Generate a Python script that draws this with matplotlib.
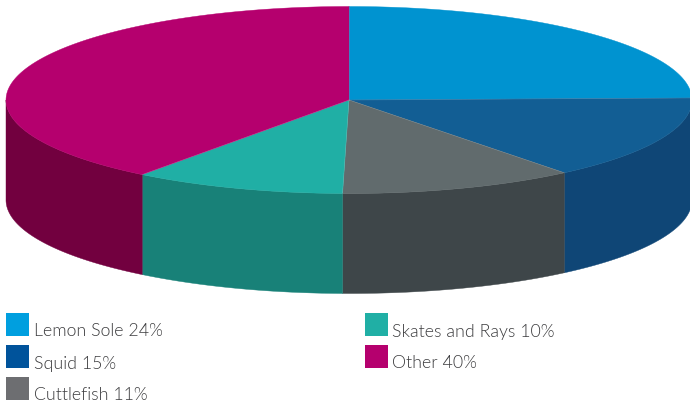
import numpy as np
import matplotlib
matplotlib.use("Agg")
import matplotlib.pyplot as plt
from matplotlib import font_manager as fm
from matplotlib.patches import Polygon, Rectangle

categories = ["Lemon Sole", "Squid", "Cuttlefish", "Skates and Rays", "Other"]
values = [24, 15, 11, 10, 40]
slice_values = [24.65, 14.55, 11.1, 10.0, 39.7]
top_colors = ["#0093D0", "#125E94", "#616B6D", "#20AFA5", "#B5006E"]
side_colors = ["#0093D0", "#0F4676", "#3E4649", "#188178", "#72003F"]
legend_colors = ["#009FDF", "#00539B", "#6D6E71", "#20AFA5", "#B5006E"]

W, H = 690, 408
CX, CY, RX, RY, DEPTH = 349, 100, 343, 93.5, 100

light = [f.fname for f in fm.fontManager.ttflist
         if f.name == "Lato" and f.fname.endswith("Lato-Light.ttf")]
label_font = fm.FontProperties(fname=light[0]) if light else fm.FontProperties(family="Lato")
label_color = "#3C3C3E" if light else "#66666A"

fig = plt.figure(figsize=(W / 100, H / 100), dpi=100)
ax = fig.add_axes([0, 0, 1, 1])
ax.set_xlim(0, W)
ax.set_ylim(H, 0)
ax.axis("off")

fracs = np.cumsum([0] + slice_values) / sum(slice_values)
edges = 2 * np.pi * fracs  # clockwise from the top


def pts(a0, a1, dy=0):
    t = np.linspace(a0, a1, 200)
    return np.c_[CX + RX * np.sin(t), CY + dy - RY * np.cos(t)]


# side walls (only front half)
for i in range(len(slice_values)):
    a0, a1 = max(edges[i], np.pi / 2), min(edges[i + 1], 3 * np.pi / 2)
    if a1 <= a0:
        continue
    top = pts(a0, a1)
    bot = pts(a0, a1, DEPTH)[::-1]
    ax.add_patch(Polygon(np.vstack([top, bot]), closed=True,
                         fc=side_colors[i], ec=side_colors[i], lw=0.3, zorder=2))

# top slices
for i in range(len(slice_values)):
    arc = pts(edges[i], edges[i + 1])
    ax.add_patch(Polygon(np.vstack([[CX, CY], arc]), closed=True,
                         fc=top_colors[i], ec=top_colors[i], lw=0.3, zorder=3))

# faint light seams between slices
for e in edges[:-1]:
    p = pts(e, e, 0)[0]
    ax.plot([CX, p[0]], [CY, p[1]], color="white", alpha=0.15, lw=0.5, zorder=3.5)

# legend
tops = [313, 345, 377, 313, 345]
cols = [6, 6, 6, 365, 365]
for i, c in enumerate(categories):
    ax.add_patch(Rectangle((cols[i], tops[i]), 23, 23, fc=legend_colors[i], ec="none", zorder=4))
    fp = label_font.copy()
    fp.set_size(12.8)
    ax.text(cols[i] + 27.5, tops[i] + 18.5, f"{c} {values[i]}%", fontproperties=fp,
            color=label_color, va="center", ha="left", zorder=4)

fig.savefig("out.png", dpi=100)
